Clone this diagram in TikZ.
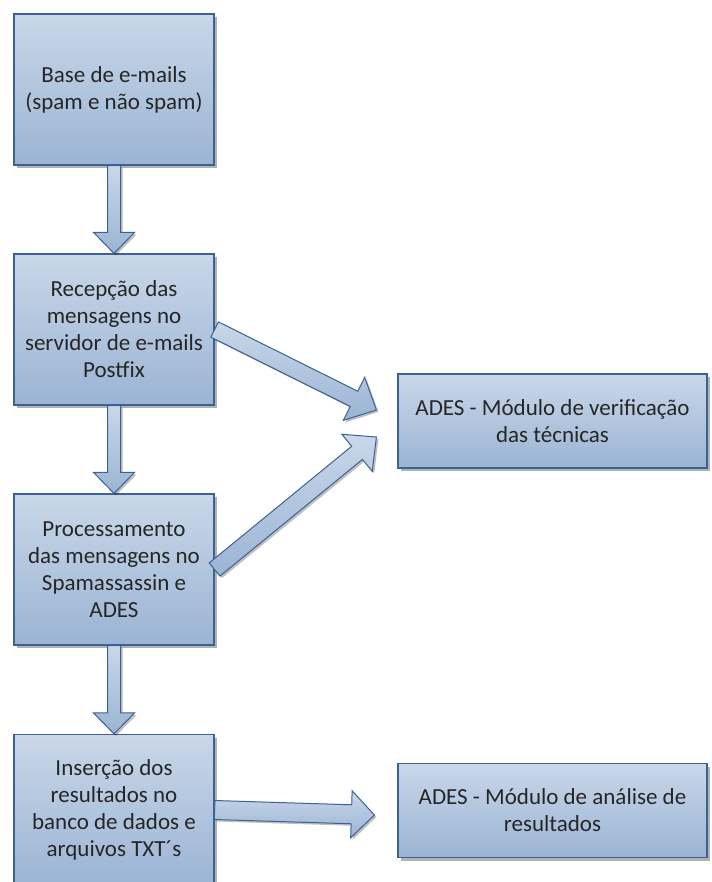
\documentclass[tikz,border=0pt]{standalone}
\usepackage{fontspec}
\setmainfont{Carlito}
\usepackage{tikz}
\usetikzlibrary{calc,shadows}

\definecolor{boxline}{RGB}{60,98,146}
\definecolor{boxtop}{RGB}{201,215,233}
\definecolor{boxbot}{RGB}{155,180,212}

% block arrow: from, to, shaft half width, head half width, head length
\newcommand{\blockarrow}[5]{%
  \coordinate (hb) at ($(#2)!#5!(#1)$);
  \draw[flow] ($(#1)!#3!90:(#2)$) -- ($(hb)!#3!90:(#2)$) -- ($(hb)!#4!90:(#2)$)
    -- (#2) -- ($(hb)!#4!-90:(#2)$) -- ($(hb)!#3!-90:(#2)$) -- ($(#1)!#3!-90:(#2)$) -- cycle;}

\begin{document}
\begin{tikzpicture}[x=1pt,y=-1pt,
    etapa/.style={draw=boxline, line width=1.2pt, top color=boxtop, bottom color=boxbot,
      minimum width=200pt, minimum height=151pt, align=center, text=black!85,
      font=\fontsize{23}{27}\selectfont,
      drop shadow={shadow xshift=3pt, shadow yshift=-3pt, fill=black, opacity=0.3}},
    modulo/.style={etapa, minimum width=309pt, minimum height=94pt},
    flow/.style={draw=boxline, line width=1pt, top color=boxtop, bottom color=boxbot,
      drop shadow={shadow xshift=2pt, shadow yshift=-2pt, fill=black, opacity=0.25}}]
    \clip (0,0) rectangle (711,882);
    \node[etapa] (base) at (114,89.5) {Base de e-mails\\(spam e não spam)};
    \node[etapa] (recepcao) at (114,329.5) {Recepção das\\mensagens no\\servidor de e-mails\\Postfix};
    \node[etapa] (proc) at (114,569.5) {Processamento\\das mensagens no\\Spamassassin e\\ADES};
    \node[etapa] (insercao) at (114,810) {Inserção dos\\resultados no\\banco de dados e\\arquivos TXT´s};
    \node[modulo] (verif) at (552.5,421) {ADES - Módulo de verificação\\das técnicas};
    \node[modulo] (analise) at (552.5,810.5) {ADES - Módulo de análise de\\resultados};
    \coordinate (pa) at ($(verif.west)+(-21,-11)$);
    \coordinate (pb) at ($(verif.west)+(-21,16)$);
    \coordinate (pc) at ($(analise.west)+(-23,4.5)$);
    \blockarrow{base.south}{recepcao.north}{6.5pt}{20.5pt}{21pt}
    \blockarrow{recepcao.south}{proc.north}{6.5pt}{20.5pt}{21pt}
    \blockarrow{proc.south}{insercao.north}{6.5pt}{20.5pt}{21pt}
    \blockarrow{recepcao.east}{pa}{8.5pt}{24pt}{25pt}
    \blockarrow{proc.east}{pb}{8.5pt}{24pt}{25pt}
    \blockarrow{insercao.east}{pc}{9.5pt}{23.5pt}{23pt}
\end{tikzpicture}
\end{document}
